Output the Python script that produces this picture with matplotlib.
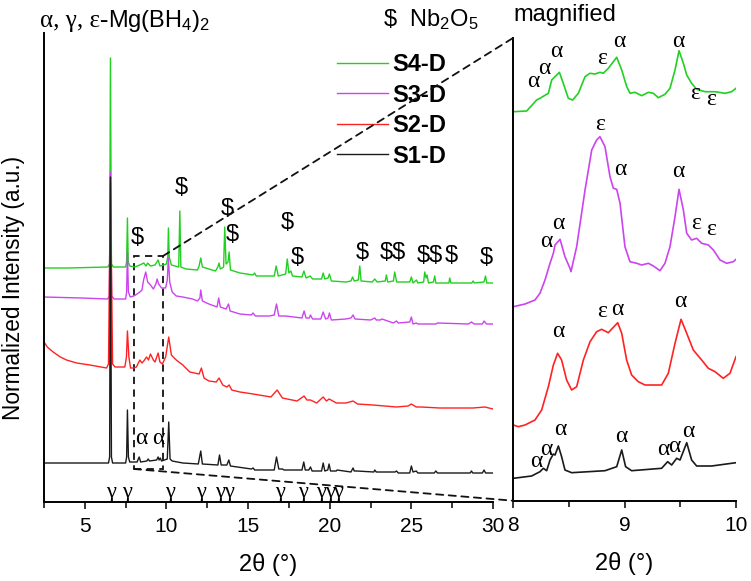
import matplotlib
matplotlib.use("Agg")
import matplotlib.pyplot as plt
from matplotlib.patches import Rectangle, ConnectionPatch
from matplotlib.ticker import MultipleLocator

plt.rcParams['font.family'] = ['Liberation Sans', 'DejaVu Sans']
plt.rcParams['mathtext.default'] = 'regular'

# ---- full range patterns (2theta, offset intensity a.u.) ----
s4_x = [2.5, 4.0, 6.4, 6.52, 6.57, 6.63, 6.75, 7.5, 7.56, 7.61, 7.66, 7.75,
        8.06, 8.37, 8.61, 8.75, 8.85, 9.02, 9.3, 9.49, 9.6, 10.0, 10.08, 10.12, 10.17, 10.3,
        10.75, 10.82, 10.88, 11.2, 11.9, 12.0, 12.1, 12.2, 13.0, 13.15, 13.22, 13.3, 13.5,
        13.57, 13.65, 13.77, 13.84, 13.92, 14.5, 15.3, 15.4, 15.5, 16.6, 16.72, 16.85, 17.3,
        17.4, 17.5, 17.62, 17.72, 18.3, 18.42, 18.55, 18.8, 18.95, 19.5, 19.6, 19.7, 19.9,
        19.98, 20.1, 21.0, 21.3, 21.4, 21.5, 21.75, 21.84, 21.92, 22.6, 22.76, 22.9, 23.4,
        23.47, 23.55, 23.9, 23.98, 24.1, 24.9, 25.0, 25.1, 25.31, 25.4, 25.75, 25.82, 25.9,
        25.96, 26.05, 26.35, 26.43, 26.5, 27.3, 27.35, 27.42, 28.7, 28.78, 28.86, 29.45,
        29.54, 29.62, 30.0]
s4_y = [234, 234, 235, 238, 444, 238, 235, 235, 240, 284, 240, 236,
        235, 237, 239, 236, 239, 236, 237, 242, 236, 238, 245, 274, 245, 237,
        235, 291, 235, 233, 232, 236, 244, 235, 231, 235, 239, 233, 235,
        275, 238, 240, 250, 232, 229, 227, 229, 226, 226, 236, 226, 228,
        243, 229, 231, 226, 225, 231, 224, 226, 223, 223, 229, 223, 224,
        228, 221, 220, 221, 225, 221, 222, 236, 221, 220, 223, 220, 221,
        227, 220, 221, 230, 220, 220, 225, 219, 222, 219, 220, 230, 224,
        227, 219, 220, 226, 219, 219, 224, 219, 219, 221, 219, 220,
        226, 219, 219]

s3_x = [2.5, 4.8, 6.4, 6.5, 6.57, 6.64, 6.8, 7.5, 7.56, 7.61, 7.67, 7.78, 8.0, 8.2,
        8.37, 8.5, 8.6, 8.73, 8.85, 9.02, 9.2, 9.35, 9.43, 9.52, 9.7, 9.95, 10.05, 10.12,
        10.2, 10.35, 10.6, 11.0, 11.6, 11.9, 12.05, 12.1, 12.2, 12.6, 13.1, 13.2, 13.3,
        13.65, 13.8, 13.9, 14.5, 15.2, 15.3, 15.45, 16.3, 16.6, 16.74, 16.88, 17.3, 18.3,
        18.43, 18.55, 18.75, 18.82, 18.95, 19.45, 19.6, 19.75, 19.9, 19.98, 20.1, 21.0,
        21.3, 21.43, 21.55, 22.5, 22.76, 22.85, 23.1, 23.2, 23.9, 24.09, 24.2, 24.9, 25.0,
        25.1, 25.3, 25.4, 26.5, 26.6, 28.5, 28.68, 28.85, 29.35, 29.45, 29.6, 30.0]
s3_y = [205, 204, 203, 206, 330, 206, 203, 203, 210, 250, 210, 205, 206, 208,
        210, 212, 222, 230, 220, 217, 213, 218, 223, 218, 214, 214, 222, 244,
        220, 210, 206, 205, 203, 201, 204, 212, 201, 198, 195, 204, 195,
        193, 198, 191, 188, 187, 189, 186, 186, 187, 198, 186, 186, 184,
        191, 184, 184, 187, 183, 183, 190, 183, 184, 189, 182, 183,
        184, 187, 183, 182, 184, 182, 182, 183, 179, 181, 179, 180, 185,
        178, 179, 178, 178, 179, 178, 180, 178, 178, 181, 178, 178]

s2_x = [2.5, 2.7, 3.06, 3.5, 3.88, 4.5, 5.31, 6.33, 6.45, 6.57, 6.7, 6.85, 7.45, 7.55,
        7.61, 7.7, 7.8, 8.0, 8.16, 8.37, 8.5, 8.61, 8.78, 8.9, 9.02, 9.2, 9.3, 9.49, 9.6,
        9.75, 9.95, 10.14, 10.3, 10.6, 11.0, 11.43, 12.0, 12.14, 12.3, 12.6, 13.05, 13.22,
        13.45, 13.7, 13.84, 14.0, 14.5, 15.31, 16.4, 16.78, 17.1, 18.0, 18.43, 18.6, 18.82,
        19.2, 19.6, 19.8, 19.96, 20.41, 21.0, 21.43, 21.7, 22.64, 24.09, 24.8, 25.0, 25.3,
        25.6, 26.74, 28.78, 29.5, 30.0]
s2_y = [160, 155, 150, 145, 142, 139, 137, 134, 138, 320, 138, 135, 135, 145,
        171, 145, 134, 134, 135, 142, 139, 141, 145, 142, 148, 142, 140, 149, 140,
        138, 145, 165, 147, 142, 137, 130, 128, 134, 124, 121, 120, 124,
        117, 115, 117, 112, 110, 108, 105, 112, 104, 101, 106, 102, 102,
        99, 105, 101, 103, 99, 99, 101, 98, 97, 95, 96, 98, 95,
        95, 94, 94, 95, 93]

s1_x = [2.5, 6.45, 6.52, 6.57, 6.63, 6.7, 7.5, 7.56, 7.61, 7.67, 7.75, 8.2, 8.33, 8.42,
        8.8, 8.88, 8.96, 9.4, 9.49, 9.55, 9.62, 9.7, 10.05, 10.14, 10.22, 10.35, 11.0,
        11.95, 12.1, 12.2, 13.15, 13.25, 13.35, 13.7, 13.82, 13.92, 15.2, 15.31, 15.4,
        16.6, 16.74, 16.88, 17.1, 17.2, 18.3, 18.41, 18.5, 18.72, 18.82, 18.92, 19.5,
        19.6, 19.7, 19.88, 19.96, 20.05, 20.4, 20.45, 21.3, 21.43, 21.5, 21.65, 22.7,
        22.76, 22.85, 24.0, 24.09, 24.2, 24.9, 25.0, 25.1, 25.3, 25.4, 26.4, 26.5, 26.6,
        28.6, 28.68, 28.76, 29.35, 29.45, 29.55, 30.0]
s1_y = [39, 39, 45, 325, 45, 39, 39, 45, 92, 45, 40, 40, 45, 40,
        41, 43, 41, 42, 45, 42, 44, 41, 43, 80, 43, 41, 39,
        38, 51, 38, 37, 47, 37, 37, 42, 36, 33, 34, 32,
        32, 45, 33, 33, 32, 32, 40, 32, 32, 35, 31, 31,
        39, 31, 32, 38, 31, 31, 32, 30, 34, 31, 31, 30,
        32, 30, 30, 31, 29, 29, 36, 30, 31, 29, 29, 31, 29,
        29, 31, 29, 29, 32, 29, 29]

# ---- magnified 8-10 deg ----
m4_x = [8.003, 8.123, 8.212, 8.242, 8.317, 8.347, 8.377, 8.416, 8.451, 8.496, 8.535,
        8.586, 8.646, 8.69, 8.735, 8.78, 8.81, 8.855, 8.93, 8.975, 9.02, 9.05, 9.094,
        9.154, 9.214, 9.259, 9.303, 9.363, 9.408, 9.453, 9.489, 9.528, 9.558, 9.602,
        9.647, 9.722, 9.812, 9.901, 9.961, 10.0]
m4_y = [389, 389.7, 400.7, 402.4, 407.4, 420.7, 424, 428.4, 417.4, 402.4, 400.7,
        407.4, 424, 427.4, 426.7, 428.4, 427.4, 432.4, 443.4, 430.7, 414, 407.4, 408.4,
        405, 408.4, 407.4, 403, 406.4, 412.4, 430.7, 450, 437.4, 425.7, 417.4,
        411.4, 409, 409, 407.4, 409, 412.4]

m3_x = [8.003, 8.108, 8.197, 8.242, 8.287, 8.332, 8.362, 8.377, 8.422, 8.466, 8.511,
        8.52, 8.571, 8.646, 8.706, 8.75, 8.78, 8.825, 8.87, 8.9, 8.93, 8.96, 9.004,
        9.049, 9.109, 9.154, 9.214, 9.259, 9.318, 9.363, 9.408, 9.453, 9.489, 9.528,
        9.558, 9.602, 9.647, 9.692, 9.752, 9.797, 9.857, 9.916, 9.976, 10.0]
m3_y = [194, 196.7, 200.7, 207.4, 220.7, 237.4, 247.4, 255.7, 261.4, 244, 232.4,
        229, 254, 310.7, 350.7, 360.7, 364, 354, 324, 312.4, 311.4, 297.4, 254,
        239, 237.4, 235.7, 237.4, 234.7, 230, 237.4, 254, 284, 311.4, 290.7,
        267.4, 260.7, 262.4, 257.4, 255.7, 250.7, 240.7, 237.4, 239, 241.4]

m2_x = [8.003, 8.048, 8.108, 8.197, 8.257, 8.317, 8.362, 8.4, 8.436, 8.481, 8.526,
        8.571, 8.631, 8.691, 8.75, 8.795, 8.855, 8.9, 8.939, 8.975, 9.019, 9.064, 9.124,
        9.184, 9.274, 9.333, 9.393, 9.453, 9.507, 9.558, 9.617, 9.692, 9.752, 9.812,
        9.886, 9.946, 10.0]
m2_y = [75.7, 74, 75.7, 80.7, 90.7, 114, 135.7, 147.4, 140.7, 120.7, 110.7,
        114, 140.7, 159, 169, 171.4, 168, 173.4, 178, 167.4, 140.7, 125.7, 119,
        115.7, 115.7, 115.7, 127.4, 157.4, 181.4, 167.4, 150.7, 140.7, 132.4, 129,
        122.4, 127.4, 144]

m1_x = [8.003, 8.167, 8.242, 8.272, 8.302, 8.332, 8.362, 8.377, 8.407, 8.436, 8.466,
        8.526, 8.825, 8.93, 8.975, 9.01, 9.064, 9.333, 9.387, 9.423, 9.468, 9.498,
        9.558, 9.602, 9.647, 9.782, 10.0]
m1_y = [22.4, 24.7, 29, 32.4, 30, 40.7, 46.7, 45.7, 54.7, 44, 30.7,
        28, 30, 34, 50.7, 34, 30, 32.4, 39, 35.7, 42.4, 40.7,
        58, 40.7, 34.7, 34.7, 38]

samples = ['S4-D', 'S3-D', 'S2-D', 'S1-D']
colors = ['#22d022', '#cc44ee', '#ff2222', '#1a1a1a']

# annotations
nb_x = [8.2, 10.92, 13.71, 14.02, 17.39, 18.0, 22.0, 23.86, 26.15, 27.47, 29.56]
nb_y = [264, 314, 293, 267, 279, 244, 249, 249, 246, 246, 244]
nb_txt = ['$', '$', '$', '$', '$', '$', '$', '$$', '$$', '$', '$']
gam_x = [6.59, 7.61, 10.2, 12.1, 13.25, 13.8, 16.94, 18.37, 19.49, 20.0, 20.51]
alpha_left_x = [8.47, 9.49]
alpha_left_y = [64, 64]

mag_lab_x = [8.18, 8.28, 8.39, 8.80, 8.95, 9.48, 9.63, 9.78,
             8.30, 8.41, 8.78, 8.96, 9.48, 9.64, 9.78,
             8.41, 8.80, 8.94, 9.50,
             8.21, 8.30, 8.42, 8.97, 9.35, 9.45, 9.57]
mag_lab_y = [419, 432, 449, 442, 459, 459, 407, 401,
             259, 277, 376, 331, 329, 277, 271,
             169, 189, 191, 199,
             39, 51, 71, 64, 51, 54, 69]
mag_lab_t = ['α', 'α', 'α', 'ε', 'α', 'α', 'ε', 'ε',
             'α', 'α', 'ε', 'α', 'α', 'ε', 'ε',
             'α', 'ε', 'α', 'α',
             'α', 'α', 'α', 'α', 'α', 'α', 'α']

greek = ['Liberation Serif', 'DejaVu Serif']

fig = plt.figure(figsize=(7.51, 5.81), dpi=100)
ax1 = fig.add_axes([44/751, 1-502/581, 449/751, 469/581])
ax2 = fig.add_axes([513/751, 1-500.7/581, 223/751, 462.7/581])

full = [(s4_x, s4_y), (s3_x, s3_y), (s2_x, s2_y), (s1_x, s1_y)]
mag = [(m4_x, m4_y), (m3_x, m3_y), (m2_x, m2_y), (m1_x, m1_y)]
for (x, y), c, lab in zip(full, colors, samples):
    ax1.plot(x, y, color=c, lw=1.0, label=lab)
for (x, y), c in zip(mag, colors):
    ax2.plot(x, y, color=c, lw=1.2)

ax1.set_xlim(2.5, 30)
ax1.set_ylim(0, 469)
ax2.set_xlim(8, 10)
ax2.set_ylim(0, 462.7)

for ax in (ax1, ax2):
    ax.spines['top'].set_visible(False)
    ax.spines['right'].set_visible(False)
    ax.spines['left'].set_linewidth(1.4)
    ax.spines['bottom'].set_linewidth(1.4)
    ax.set_yticks([])
    ax.tick_params(axis='x', which='major', direction='out', length=5, width=1.1, labelsize=15, pad=6)
    ax.tick_params(axis='x', which='minor', direction='out', length=4, width=1.1)
    ax.set_xlabel('2θ (°)', fontsize=17, labelpad=12)

ax1.xaxis.set_major_locator(MultipleLocator(5))
ax1.xaxis.set_minor_locator(MultipleLocator(2.5))
ax2.xaxis.set_major_locator(MultipleLocator(1))
ax2.xaxis.set_minor_locator(MultipleLocator(0.5))
ax2.set_xticks([8, 9, 10], ['8', '9', '10'])
ax1.set_ylabel('Normalized Intensity (a.u.)', fontsize=16.3)
ax1.yaxis.set_label_coords(-0.042, 0.457)

# zoom box and connectors
ax1.add_patch(Rectangle((8.0, 33), 1.79, 213, fill=False, ls=(0, (4, 3)), lw=1.3, color='#111111'))
for a, b in [((9.79, 246), (8, 462.7)), ((8.0, 33), (8, 0))]:
    con = ConnectionPatch(xyA=a, coordsA=ax1.transData, xyB=b, coordsB=ax2.transData,
                          ls=(0, (4, 3)), lw=1.3, color='#111111')
    fig.add_artist(con)

for x, y, t in zip(nb_x, nb_y, nb_txt):
    ax1.text(x, y, t.replace('$', r'\$'), fontsize=17, ha='center', va='center')
for x in gam_x:
    ax1.text(x, 10, 'γ', fontsize=16, ha='center', va='center', family=greek)
for x, y in zip(alpha_left_x, alpha_left_y):
    ax1.text(x, y, 'α', fontsize=17, ha='center', va='center', family=greek)
for x, y, t in zip(mag_lab_x, mag_lab_y, mag_lab_t):
    ax2.text(x, y, t, fontsize=17, ha='center', va='center', family=greek)

leg = ax1.legend(loc='upper left', bbox_to_anchor=(337/751, 1-53/581), bbox_transform=fig.transFigure,
                 frameon=False, handlelength=2.15, handletextpad=0.2, labelspacing=0.32,
                 borderpad=0, borderaxespad=0, prop={'weight': 'bold', 'size': 17})

t1 = fig.text(40/751, 1-21/581, 'α, γ, ε-', fontsize=18, va='center', ha='left', family=greek)
fig.canvas.draw()
bb = t1.get_window_extent().transformed(fig.transFigure.inverted())
fig.text(bb.x1, 1-21/581, 'Mg(BH$_4$)$_2$', fontsize=17, va='center', ha='left')
fig.text(383/751, 1-20/581, r'\$  Nb$_2$O$_5$', fontsize=17, va='center', ha='left')
fig.text(513/751, 1-15/581, 'magnified', fontsize=17, va='center', ha='left')

fig.savefig('out.png', dpi=100)
